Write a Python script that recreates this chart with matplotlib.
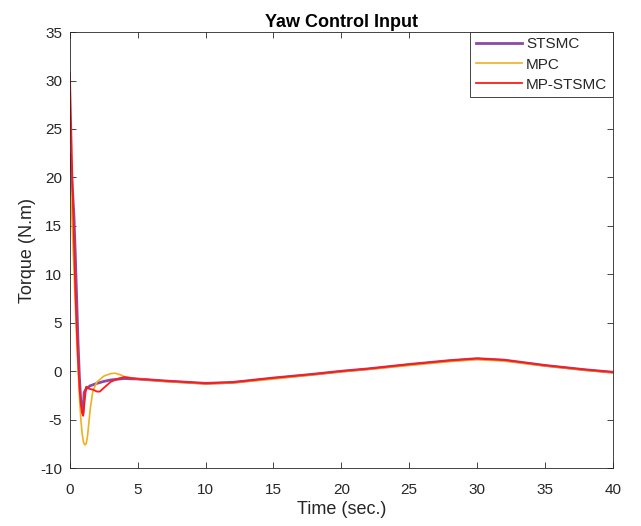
import matplotlib.pyplot as plt

plt.rcParams['font.family'] = ['Liberation Sans', 'DejaVu Sans']
plt.rcParams['axes.unicode_minus'] = False

# STSMC
t_stsmc = [0, 0.1, 0.2, 0.3, 0.4, 0.5, 0.6, 0.7, 0.8, 0.9, 0.97, 1.05, 1.2, 1.5,
           2.0, 2.5, 3.0, 4.0, 5, 7, 10, 12, 15, 18, 20, 22, 25, 28, 30, 32, 35, 38, 40]
v_stsmc = [22.3, 20.5, 18.5, 16, 12, 7.5, 3, -0.5, -3.0, -4.2, -4.3, -2.2, -1.8, -1.5,
           -1.25, -1.05, -0.9, -0.75, -0.8, -1.0, -1.25, -1.15, -0.7, -0.3, 0.0, 0.25,
           0.7, 1.1, 1.3, 1.15, 0.6, 0.15, -0.1]

# MPC
t_mpc = [0, 0.1, 0.2, 0.3, 0.4, 0.5, 0.6, 0.7, 0.8, 0.9, 1.0, 1.1, 1.2, 1.3, 1.4,
         1.5, 1.7, 2.0, 2.5, 3.0, 3.3, 3.7, 4.0, 5, 7, 10, 12, 15, 18, 20, 22, 25,
         28, 30, 32, 35, 38, 40]
v_mpc = [20.5, 17.5, 14, 10.5, 7, 3.5, 0.5, -2.5, -4.8, -6.4, -7.3, -7.6, -7.5,
         -6.7, -5.3, -3.9, -2.0, -1.1, -0.5, -0.25, -0.2, -0.35, -0.55, -0.8, -1.05,
         -1.3, -1.2, -0.8, -0.35, -0.05, 0.2, 0.6, 1.0, 1.2, 1.05, 0.55, 0.1, -0.15]

# MP-STSMC
t_mp = [0, 0.1, 0.2, 0.3, 0.4, 0.5, 0.6, 0.7, 0.8, 0.9, 0.98, 1.08, 1.2, 1.4, 1.7,
        2.0, 2.2, 2.6, 3.0, 3.5, 4.0, 5, 7, 10, 12, 15, 18, 20, 22, 25, 28, 30, 32,
        35, 38, 40]
v_mp = [30.8, 25, 19, 13.5, 8.5, 4.5, 1.2, -1.5, -3.3, -4.3, -4.6, -3.2, -1.6, -1.8,
        -1.9, -2.1, -2.1, -1.6, -1.1, -0.8, -0.6, -0.8, -1.0, -1.25, -1.15, -0.7,
        -0.3, 0.0, 0.25, 0.7, 1.1, 1.3, 1.15, 0.6, 0.15, -0.1]

x_ticks = [0, 5, 10, 15, 20, 25, 30, 35, 40]
y_ticks = [-10, -5, 0, 5, 10, 15, 20, 25, 30, 35]

dark = '#262626'

fig = plt.figure(figsize=(6.41, 5.26), dpi=100)
ax = fig.add_axes([0.109, 0.110, 0.847, 0.829])

ax.plot(t_stsmc, v_stsmc, color='#8A4AA6', lw=2.0, label='STSMC')
ax.plot(t_mpc, v_mpc, color='#EDB120', lw=1.2, label='MPC')
ax.plot(t_mp, v_mp, color='#FF1A1A', lw=1.3, label='MP-STSMC')

ax.set_xlim(0, 40)
ax.set_ylim(-10, 35)
ax.set_xticks(x_ticks)
ax.set_yticks(y_ticks)
ax.tick_params(direction='in', top=True, right=True, labelsize=11, length=4,
               width=0.6, colors=dark)
ax.tick_params(axis='x', pad=10.5)
ax.tick_params(axis='y', pad=5.5)
for s in ax.spines.values():
    s.set_linewidth(0.6)
    s.set_color(dark)

ax.set_xlabel('Time (sec.)', fontsize=13, color=dark, labelpad=3)
ax.set_ylabel('Torque (N.m)', fontsize=13, color=dark, labelpad=3)
ax.set_title('Yaw Control Input', fontsize=13, fontweight='bold', pad=4, color='black')

leg = ax.legend(loc='upper right', fontsize=11, fancybox=False, framealpha=1,
                edgecolor=dark, borderaxespad=0.0, handlelength=3.0,
                borderpad=0.35, labelspacing=0.4, handletextpad=0.3)
leg.get_frame().set_linewidth(0.6)
for txt in leg.get_texts():
    txt.set_color(dark)

plt.savefig('out.png', dpi=100)
